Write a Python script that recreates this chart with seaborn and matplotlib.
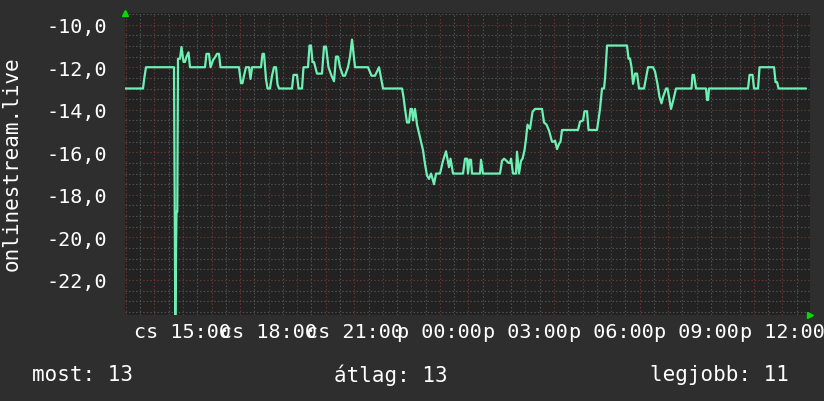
import numpy as np
import pandas as pd
import seaborn as sns
import matplotlib
matplotlib.use("Agg")
import matplotlib.pyplot as plt
from matplotlib.ticker import MultipleLocator, FuncFormatter

# hours since Thursday 00:00 and the value of onlinestream.live
hours = [12.968, 13.598, 13.651, 13.704, 14.685, 14.730, 14.772, 14.800, 14.825, 14.895,
         14.947, 15.018, 15.070, 15.123, 15.193, 15.245, 15.771, 15.823, 15.911, 15.964,
         16.051, 16.139, 16.191, 16.261, 16.314, 16.962, 17.032, 17.085, 17.137, 17.207,
         17.313, 17.365, 17.418, 17.733, 17.786, 17.838, 17.908, 17.961, 18.048, 18.118,
         18.189, 18.259, 18.311, 18.364, 18.819, 18.872, 18.994, 19.047, 19.170, 19.222,
         19.380, 19.432, 19.485, 19.538, 19.590, 19.695, 19.870, 19.941, 20.011, 20.098,
         20.203, 20.291, 20.361, 20.431, 20.501, 20.606, 20.676, 20.781, 20.852, 20.922,
         21.027, 21.482, 21.605, 21.727, 21.798, 21.868, 22.008, 22.674, 22.726, 22.779,
         22.849, 22.919, 22.971, 23.024, 23.059, 23.129, 23.199, 23.304, 23.409, 23.479,
         23.550, 23.620, 23.690, 23.795, 23.865, 24.005, 24.110, 24.215, 24.320, 24.373,
         24.461, 24.811, 24.881, 24.951, 24.986, 25.039, 25.091, 25.126, 25.407, 25.442,
         25.512, 26.107, 26.177, 26.248, 26.335, 26.405, 26.458, 26.493, 26.563, 26.668,
         26.703, 26.773, 26.843, 26.896, 26.966, 27.018, 27.071, 27.159, 27.246, 27.334,
         27.579, 27.649, 27.737, 27.824, 27.929, 27.982, 28.035, 28.105, 28.175, 28.227,
         28.280, 28.840, 28.910, 29.016, 29.068, 29.156, 29.208, 29.506, 29.611, 29.681,
         29.751, 29.786, 29.857, 30.557, 30.610, 30.662, 30.715, 30.768, 30.838, 30.908,
         30.978, 31.153, 31.223, 31.293, 31.468, 31.538, 31.626, 31.696, 31.766, 31.819,
         31.924, 31.976, 32.029, 32.099, 32.169, 32.274, 32.817, 32.852, 32.905, 32.975,
         33.325, 33.360, 33.395, 33.431, 34.797, 34.850, 34.955, 35.007, 35.147, 35.200,
         35.708, 35.761, 35.814, 35.866, 36.829]
values = [-13, -13, -12.45, -12, -12, -23.9, -18.8, -18.8, -11.6, -11.6,
          -11.05, -11.75, -11.75, -11.5, -11.3, -12, -12, -11.37, -11.37, -12,
          -11.67, -11.5, -11.37, -11.37, -12, -12, -12.75, -12.75, -12.4, -12,
          -12, -12.55, -12, -12, -11.37, -11.37, -12.55, -13, -13, -12.4,
          -12, -12, -12.8, -13, -13, -12.36, -12.36, -13, -13, -12,
          -12, -10.98, -10.98, -11.76, -11.76, -12.3, -12.3, -11.03, -11.03, -12,
          -12.4, -12.66, -11.5, -11.5, -12, -12.4, -12.4, -12, -11.5, -10.7,
          -12, -12, -12.4, -12.4, -12.2, -12, -13, -13, -13.4, -13.96,
          -14.6, -14.6, -13.96, -13.96, -14.5, -13.96, -14.7, -15.3, -15.9, -16.55,
          -17.1, -17.25, -17.0, -17.5, -17.0, -17.0, -16.4, -15.95, -16.7, -16.3,
          -17, -17, -16.3, -16.3, -17, -16.35, -16.35, -17, -17, -16.35,
          -17, -17, -16.4, -16.3, -16.4, -16.5, -16.5, -16.3, -17, -17,
          -15.97, -17, -16.4, -16.3, -15.9, -15.37, -14.7, -14.9, -14.1, -13.96,
          -13.96, -14.6, -14.7, -14.98, -15.5, -15.5, -15.45, -15.85, -15.6, -15.5,
          -14.95, -14.95, -14.56, -14.5, -14.07, -14.07, -14.95, -14.95, -13.96, -13,
          -13, -12.55, -10.98, -10.98, -11.6, -11.6, -12, -12.78, -12.3, -12.3,
          -13, -13, -12.5, -12, -12, -12.2, -12.8, -13.4, -13.7, -13.4,
          -13, -13, -13.4, -13.96, -13.6, -13, -13, -12.36, -12.36, -13,
          -13, -13.54, -13.54, -13, -13, -12.36, -12.36, -13, -13, -12,
          -12, -12.7, -12.7, -13, -13]

legend_items = ["most: 13", "átlag: 13", "legjobb: 11"]
ylabel = "onlinestream.live"

df = pd.DataFrame({"hour": hours, "value": values})

sns.set_theme(style="dark", rc={
    "figure.facecolor": "#2e2e2e",
    "axes.facecolor": "#222222",
    "text.color": "white",
    "xtick.color": "white",
    "ytick.color": "white",
})
plt.rcParams["font.family"] = ["DejaVu Sans Mono"]

fig = plt.figure(figsize=(8.24, 4.02), dpi=100)
ax = fig.add_axes([125 / 824, 86 / 402, 685 / 824, 302 / 402])

sns.lineplot(data=df, x="hour", y="value", ax=ax, color="#6ef0b4",
             linewidth=1.6, estimator=None, sort=False)

ax.set_xlim(12.968, 36.968)
ax.set_ylim(-23.65, -9.45)

ax.xaxis.set_major_locator(MultipleLocator(1))
ax.xaxis.set_minor_locator(MultipleLocator(0.5))
ax.yaxis.set_major_locator(MultipleLocator(2))
ax.yaxis.set_minor_locator(MultipleLocator(0.5))


def xfmt(h, pos):
    h = int(round(h))
    if h % 3:
        return ""
    day = "cs" if h < 24 else "p"
    return f"{day} {h % 24:02d}:00"


ax.xaxis.set_major_formatter(FuncFormatter(xfmt))
ax.yaxis.set_major_formatter(FuncFormatter(lambda v, p: f"{v:.1f}".replace(".", ",")))

ax.grid(which="minor", color="#555555", linestyle=(0, (1.2, 2.0)), linewidth=0.8)
ax.grid(which="major", color="#703636", linestyle=(0, (1.2, 2.0)), linewidth=0.8)
ax.set_axisbelow(True)

ax.tick_params(axis="x", which="major", length=3, color="#703636", labelsize=14.5, pad=2)
ax.tick_params(axis="x", which="minor", length=2, color="#555555")
ax.tick_params(axis="y", which="both", length=0, labelsize=14.5, pad=13)
for s in ax.spines.values():
    s.set_visible(False)
ax.set_xlabel("")
ax.set_ylabel("")

# rrd style arrows at the axis ends
ax.plot([0], [1.0], marker="^", color="#00dd00", markersize=4, transform=ax.transAxes, clip_on=False)
ax.plot([1.0], [0], marker=">", color="#00dd00", markersize=4, transform=ax.transAxes, clip_on=False)

fig.text(12 / 824, 1 - 164 / 402, ylabel, rotation=90, ha="center", va="center", fontsize=15)

for txt, x in zip(legend_items, [32, 334, 650]):
    fig.text(x / 824, 1 - 375 / 402, txt, ha="left", va="center", fontsize=15)

fig.savefig("out.png", dpi=100, facecolor=fig.get_facecolor())
